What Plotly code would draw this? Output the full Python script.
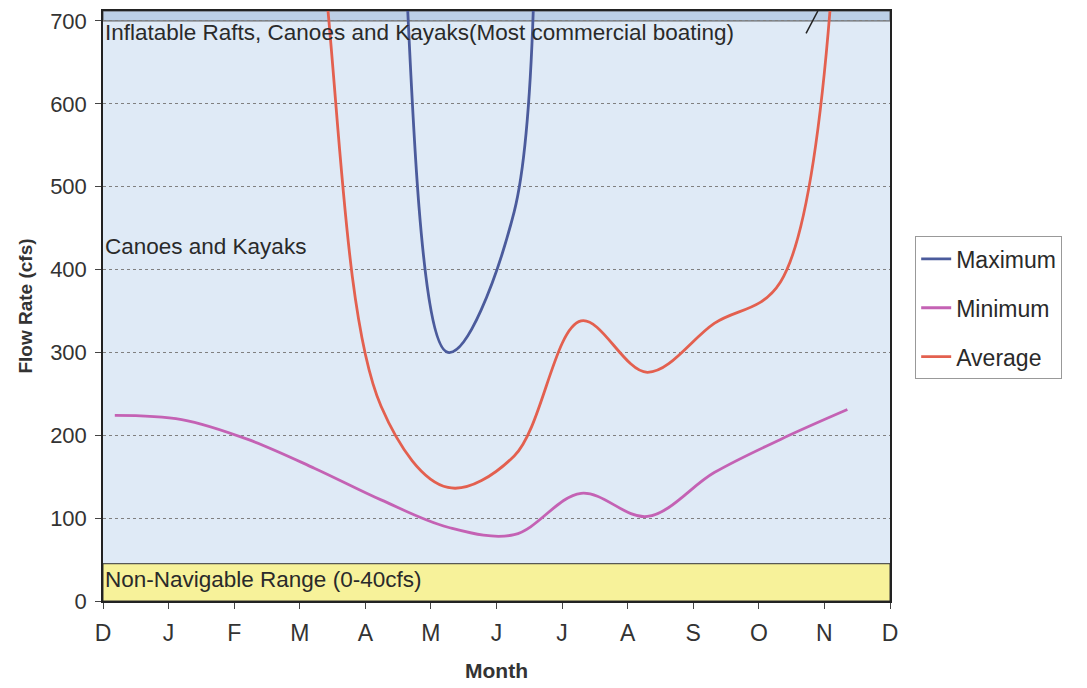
import plotly.graph_objects as go

# month tick labels (Dec to Dec)
month_labels = ["D", "J", "F", "M", "A", "M", "J", "J", "A", "S", "O", "N", "D"]
month_ticks = list(range(13))

# sample positions (fraction of months since Dec)
sample_pos = [0.18, 1.2, 2.21, 3.23, 4.24, 5.26, 6.27, 7.29, 8.3, 9.32, 10.33, 11.35]

# flow rate, cfs (values above 700 run off the top of the chart)
maximum = [2000, 2200, 2300, 1900, 1300, 300, 470, 1800, 1800, 1800, 2000, 2500]
minimum = [224, 219, 195, 160, 122, 89, 80, 130, 102, 155, 195, 231]
average = [1400, 1500, 1300, 850, 235, 137, 175, 338, 276, 335, 385, 1150]

FONT = "Liberation Sans, Arial, sans-serif"
TXT = "#2a2a2a"

fig = go.Figure()

series = [
    ("Maximum", maximum, "#4b5b9c"),
    ("Minimum", minimum, "#c462b4"),
    ("Average", average, "#e3604f"),
]
for name, vals, col in series:
    fig.add_trace(go.Scatter(
        x=sample_pos, y=vals, name=name, mode="lines",
        line=dict(color=col, width=2.8, shape="spline", smoothing=1),
        legendgroup=name,
    ))

# non-navigable band and top strip
fig.add_shape(type="rect", xref="x", yref="y", x0=0, x1=12, y0=0, y1=45,
              fillcolor="#f7f29a", line=dict(color="#333", width=1), layer="below")
fig.add_shape(type="rect", xref="x", yref="y", x0=0, x1=12, y0=700, y1=712,
              fillcolor="#bccfe6", line=dict(color="#555", width=1), layer="below")
# little pointer at top right
fig.add_shape(type="line", xref="x", yref="y", x0=10.72, y0=685, x1=10.9, y1=712,
              line=dict(color="#222", width=1.5))

notes = [
    ("Inflatable Rafts, Canoes and Kayaks(Most commercial boating)", 686),
    ("Canoes and Kayaks", 428),
    ("Non-Navigable Range (0-40cfs)", 26),
]
for text, yv in notes:
    fig.add_annotation(x=0.0, y=yv, xref="x", yref="y", text=text, showarrow=False,
                       xanchor="left", yanchor="middle",
                       font=dict(family=FONT, size=22.5, color=TXT))

# page body adds ~8px offset, margins compensate for it
fig.update_layout(
    width=1087, height=688,
    margin=dict(l=95, r=205, t=3, b=95, autoexpand=False),
    paper_bgcolor="white",
    plot_bgcolor="#dfeaf6",
    font=dict(family=FONT, color=TXT),
    showlegend=True,
    legend=dict(
        x=1.032, y=0.618, xanchor="left", yanchor="top",
        bgcolor="white", bordercolor="#999", borderwidth=1,
        font=dict(family=FONT, size=23, color=TXT),
        tracegroupgap=16, itemwidth=30,
    ),
)
fig.update_xaxes(
    range=[0, 12], tickvals=month_ticks, ticktext=month_labels,
    ticks="outside", ticklen=6, tickcolor="#444", ticklabelstandoff=5,
    showline=True, mirror=True, linecolor="#222", linewidth=1.5,
    showgrid=False, zeroline=False, automargin=False,
    tickfont=dict(family=FONT, size=23, color="#333"),
    title=dict(text="<b>Month</b>", font=dict(family=FONT, size=21, color="#333"), standoff=18),
)
fig.update_yaxes(
    range=[0, 712], tickvals=[0, 100, 200, 300, 400, 500, 600, 700],
    ticks="outside", ticklen=6, tickcolor="#444", ticklabelstandoff=4,
    ticklabeloverflow="allow",
    showline=True, mirror=True, linecolor="#222", linewidth=1.5,
    showgrid=True, gridcolor="#808080", griddash="dot", gridwidth=1,
    zeroline=False, automargin=False,
    tickfont=dict(family=FONT, size=22, color="#333"),
    title=dict(text="<b>Flow Rate (cfs)</b>", font=dict(family=FONT, size=19, color="#333"), standoff=12),
)

fig.write_html("out.html")
